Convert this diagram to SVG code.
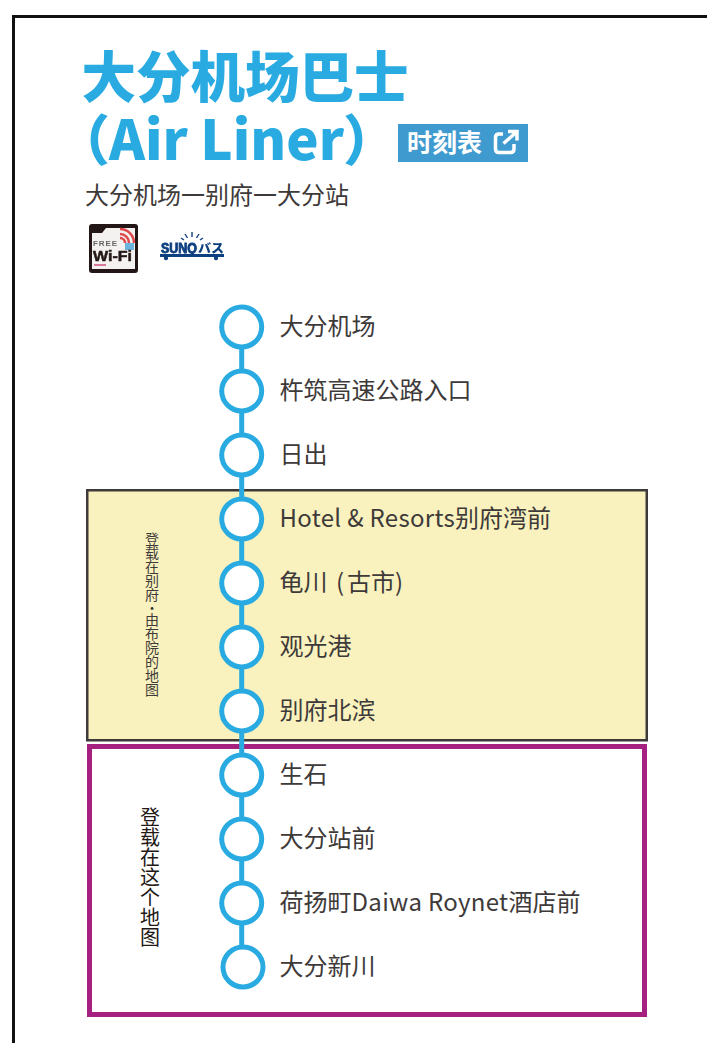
<svg xmlns="http://www.w3.org/2000/svg" width="707" height="1043" viewBox="0 0 707 1043">
<style>
text{font-family:"Noto Sans CJK SC","Noto Sans",sans-serif}
.l{font-size:24px;fill:#3e3a39}
.la{letter-spacing:.32px}
.t{font-size:54.500px;font-weight:900;fill:#29abe2}
.s{fill:#fff;stroke:#29abe2;stroke-width:5}
.v{fill:#3e3a39;writing-mode:vertical-rl}
.logo{font-family:"Liberation Sans",sans-serif;font-weight:700}
</style>
<defs><filter id="soft" x="-5%" y="-5%" width="110%" height="110%"><feGaussianBlur stdDeviation=".5"/></filter></defs>
<rect x="0" y="0" width="707" height="1043" fill="#fff"/>
<path d="M13.500 1043V16.500H707" fill="none" stroke="#111" stroke-width="3"/>
<g id="title">
<text class="t" x="81.500" y="97">大分机场巴士</text>
<text class="t" x="55.500" y="160">（<tspan x="109">Air Liner</tspan><tspan dx="-1">）</tspan></text>
<text class="l" x="85" y="204">大分机场一别府一大分站</text>
</g>
<g id="timetable-button">
<rect x="398" y="124" width="130" height="38" fill="#3f9bcf"/>
<text x="407" y="152" font-size="25" font-weight="700" fill="#fff">时刻表</text>
<path d="M503 134H499Q495.500 134 495.500 137.500V149Q495.500 152.500 499 152.500H510.500Q514 152.500 514 149V144M503.500 143.500L516 132.500M508 131.500H517V140.500" fill="none" stroke="#fff" stroke-width="3.500"/>
</g>
<g id="wifi-icon" filter="url(#soft)">
<rect x="89" y="224" width="49" height="49" rx="3" fill="#231815"/>
<path d="M92 233H102L106 228H135V269H92Z" fill="#f4f1f1"/>
<path d="M120 229A14 14 0 0 1 134 243M120 234A9 9 0 0 1 129 243M120 238A5 5 0 0 1 125 243" fill="none" stroke="#e04a4a" stroke-width="2.500"/>
<rect x="125" y="243" width="9" height="7" fill="#6cb4dd"/>
<text class="logo" x="93" y="245.500" font-size="8" fill="#666" letter-spacing=".9">FREE</text>
<text class="logo" x="93" y="261" font-size="14.500" fill="#231815" stroke="#231815" stroke-width=".5" textLength="39" lengthAdjust="spacingAndGlyphs">Wi-Fi</text>
<rect x="94" y="264" width="12" height="2" fill="#d77a9a"/>
</g>
<g id="sunq-logo" fill="#0b3f7f" filter="url(#soft)">
<text class="logo" x="161" y="252.500" font-size="14.500" stroke="#0b3f7f" stroke-width=".9" textLength="36" lengthAdjust="spacingAndGlyphs">SUNQ</text>
<text x="198" y="252.500" font-size="12" font-weight="900" textLength="26" lengthAdjust="spacingAndGlyphs">バス</text>
<rect x="160" y="254" width="64" height="3"/>
<circle cx="166" cy="258" r="2.200"/><circle cx="216" cy="258" r="2.200"/>
<path d="M192 232V237M185 234L187.500 238M199 234L196.500 238M181 238L184 240M203 238L200 240" stroke="#0b3f7f" stroke-width="1.400"/>
</g>
<g id="area-beppu">
<rect x="87.250" y="490.250" width="559.500" height="250" fill="#f9f2bf" stroke="#3e3a39" stroke-width="2.500"/>
<text class="v" x="152" y="531.500" font-size="14" letter-spacing=".12"><tspan>登载在别府</tspan><tspan dy="-2">・</tspan><tspan dy="-2">由布院的地图</tspan></text>
</g>
<g id="area-here">
<rect x="89.500" y="746.500" width="555" height="268" fill="#fff" stroke="#a5207f" stroke-width="5"/>
<text class="v" x="150" y="807" font-size="20" style="fill:#231815">登载在这个地图</text>
</g>
<g id="connectors">
<path d="M241.700 327V967" fill="none" stroke="#29abe2" stroke-width="5"/>
</g>
<g id="n1"><circle class="s" cx="241.700" cy="327" r="20"/><text class="l" x="279.500" y="335">大分机场</text></g>
<g id="n2"><circle class="s" cx="241.700" cy="391" r="20"/><text class="l" x="279.500" y="399">杵筑高速公路入口</text></g>
<g id="n3"><circle class="s" cx="241.700" cy="455" r="20"/><text class="l" x="279.500" y="463">日出</text></g>
<g id="n4"><circle class="s" cx="241.700" cy="519" r="20"/><text class="l" x="279.500" y="527"><tspan class="la">Hotel &amp; Resorts</tspan>别府湾前</text></g>
<g id="n5"><circle class="s" cx="241.700" cy="583" r="20"/><text class="l" x="279.500" y="591">龟川 <tspan dx="3">(</tspan><tspan dx="3">古市)</tspan></text></g>
<g id="n6"><circle class="s" cx="241.700" cy="647" r="20"/><text class="l" x="279.500" y="655">观光港</text></g>
<g id="n7"><circle class="s" cx="241.700" cy="711" r="20"/><text class="l" x="279.500" y="719">别府北滨</text></g>
<g id="n8"><circle class="s" cx="241.700" cy="775" r="20"/><text class="l" x="279.500" y="783">生石</text></g>
<g id="n9"><circle class="s" cx="241.700" cy="839" r="20"/><text class="l" x="279.500" y="847">大分站前</text></g>
<g id="n10"><circle class="s" cx="241.700" cy="903" r="20"/><text class="l" x="279.500" y="911">荷扬町<tspan class="la">Daiwa Roynet</tspan>酒店前</text></g>
<g id="n11"><circle class="s" cx="243" cy="967" r="20"/><text class="l" x="279.500" y="975">大分新川</text></g>
</svg>
